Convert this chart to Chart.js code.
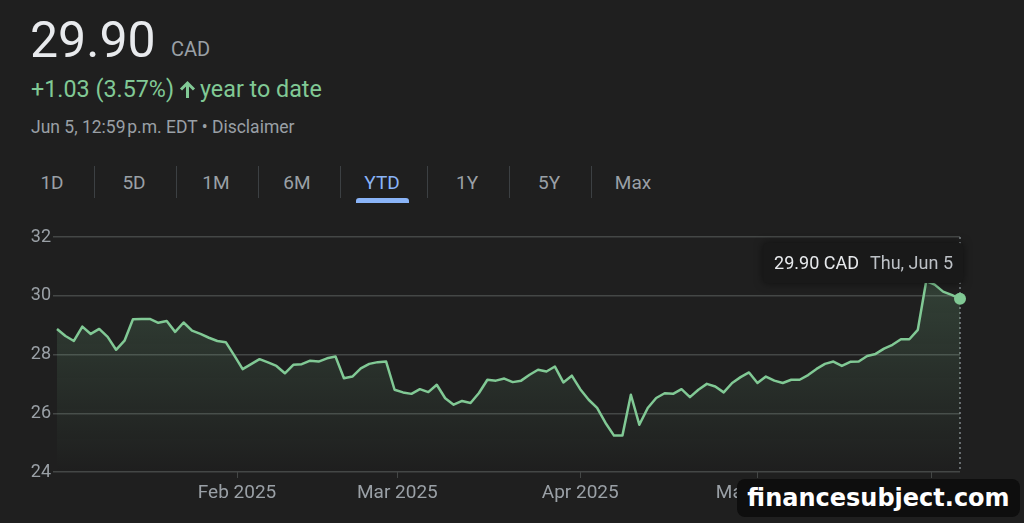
<!DOCTYPE html>
<html>
<head>
<meta charset="utf-8">
<script src="https://cdn.jsdelivr.net/npm/chart.js@4/dist/chart.umd.min.js"></script>
<style>
    body { margin: 0; width: 1024px; height: 523px; background: #1f1f1f; overflow: hidden; font-family: Roboto, "Noto Sans", sans-serif; position: relative; }
    .abs { position: absolute; white-space: nowrap; line-height: 1; }
    .price { left: 30px; top: 15px; font-size: 50px; color: #e8eaed; }
    .cur { left: 171px; top: 39px; font-size: 20px; color: #9aa0a6; }
    .change { left: 31px; top: 78px; font-size: 23.3px; color: #81c995; }
    .change svg { vertical-align: -2px; margin: 0 4px 0 5px; }
    .stamp { left: 31px; top: 119px; font-size: 17.5px; color: #9aa0a6; }
    .tab { top: 173px; width: 80px; margin-left: -40px; text-align: center; font-size: 19px; color: #9aa0a6; }
    .tab.on { color: #8ab4f8; }
    .sep { top: 166px; width: 1px; height: 32px; background: #3c4043; }
    .bar { left: 356px; top: 198px; width: 53px; height: 5px; background: #8ab4f8; border-radius: 3px 3px 0 0; }
    #wrap { position: absolute; left: 0; top: 220px; width: 1024px; height: 303px; }
    .mark { left: 737px; top: 479px; width: 283px; height: 38px; background: #0e0e0e; border-radius: 8px; color: #fff; font-family: "DejaVu Sans", sans-serif; font-weight: bold; font-size: 24px; line-height: 38px; text-align: center; }
</style>
</head>
<body>
<div class="abs price">29.90</div>
<div class="abs cur">CAD</div>
<div class="abs change">+1.03 (3.57%)<svg width="17" height="19" viewBox="0 0 17 19"><path d="M8.5 18V3 M2 9.5L8.5 3L15 9.5" fill="none" stroke="#81c995" stroke-width="3" stroke-linejoin="miter"/></svg>year to date</div>
<div class="abs stamp">Jun 5, 12:59&#8202;p.m. EDT &bull; Disclaimer</div>
<div id="tabs"></div>
<div class="abs bar"></div>
<div id="wrap"><canvas id="stockChart"></canvas></div>
<div class="abs mark">financesubject.com</div>

<script>
// trading days, Jan 2 - Jun 5 2025 (TSX)
var tradeDates = [
    '2025-01-02', '2025-01-03', '2025-01-06', '2025-01-07', '2025-01-08', '2025-01-09', '2025-01-10',
    '2025-01-13', '2025-01-14', '2025-01-15', '2025-01-16', '2025-01-17', '2025-01-20', '2025-01-21',
    '2025-01-22', '2025-01-23', '2025-01-24', '2025-01-27', '2025-01-28', '2025-01-29', '2025-01-30',
    '2025-01-31', '2025-02-03', '2025-02-04', '2025-02-05', '2025-02-06', '2025-02-07', '2025-02-10',
    '2025-02-11', '2025-02-12', '2025-02-13', '2025-02-14', '2025-02-18', '2025-02-19', '2025-02-20',
    '2025-02-21', '2025-02-24', '2025-02-25', '2025-02-26', '2025-02-27', '2025-02-28', '2025-03-03',
    '2025-03-04', '2025-03-05', '2025-03-06', '2025-03-07', '2025-03-10', '2025-03-11', '2025-03-12',
    '2025-03-13', '2025-03-14', '2025-03-17', '2025-03-18', '2025-03-19', '2025-03-20', '2025-03-21',
    '2025-03-24', '2025-03-25', '2025-03-26', '2025-03-27', '2025-03-28', '2025-03-31', '2025-04-01',
    '2025-04-02', '2025-04-03', '2025-04-04', '2025-04-07', '2025-04-08', '2025-04-09', '2025-04-10',
    '2025-04-11', '2025-04-14', '2025-04-15', '2025-04-16', '2025-04-17', '2025-04-21', '2025-04-22',
    '2025-04-23', '2025-04-24', '2025-04-25', '2025-04-28', '2025-04-29', '2025-04-30', '2025-05-01',
    '2025-05-02', '2025-05-05', '2025-05-06', '2025-05-07', '2025-05-08', '2025-05-09', '2025-05-12',
    '2025-05-13', '2025-05-14', '2025-05-15', '2025-05-16', '2025-05-20', '2025-05-21', '2025-05-22',
    '2025-05-23', '2025-05-26', '2025-05-27', '2025-05-28', '2025-05-29', '2025-05-30', '2025-06-02',
    '2025-06-03', '2025-06-04', '2025-06-05'
];

var closes = [
    28.87, 28.63, 28.46, 28.95, 28.70, 28.87, 28.60, 28.16, 28.47, 29.20,
    29.21, 29.21, 29.08, 29.14, 28.77, 29.09, 28.81, 28.70, 28.57, 28.46,
    28.42, 27.97, 27.50, 27.67, 27.84, 27.73, 27.61, 27.36, 27.65, 27.67,
    27.79, 27.76, 27.87, 27.93, 27.19, 27.25, 27.53, 27.68, 27.74, 27.76,
    26.80, 26.71, 26.66, 26.82, 26.72, 26.97, 26.51, 26.29, 26.42, 26.35,
    26.69, 27.14, 27.11, 27.18, 27.06, 27.11, 27.31, 27.48, 27.42, 27.59,
    27.05, 27.28, 26.82, 26.46, 26.18, 25.67, 25.24, 25.24, 26.63, 25.61,
    26.18, 26.52, 26.68, 26.66, 26.82, 26.55, 26.80, 27.00, 26.91, 26.71,
    27.03, 27.23, 27.39, 27.03, 27.25, 27.11, 27.03, 27.14, 27.14, 27.30,
    27.51, 27.68, 27.76, 27.61, 27.75, 27.76, 27.95, 28.02, 28.20, 28.33,
    28.52, 28.52, 28.84, 30.50, 30.38, 30.14, 30.03, 29.90
];

// month starts fall on weekends sometimes, so the ticks sit between trading days
var monthTickPos = [21.33, 40.33, 62, 83, 103.67];
var monthTickLabels = ['Feb 2025', 'Mar 2025', 'Apr 2025', 'May 2025', 'Jun 2025'];
var yTicks = [24, 26, 28, 30, 32];

var tabLabels = ['1D', '5D', '1M', '6M', 'YTD', '1Y', '5Y', 'Max'];
var tabCenters = [52, 134, 216, 297, 382, 467, 549, 633];
var sepX = [94, 176, 258, 340, 427, 509, 591];

var green = '#81c995';
var gridColor = '#444746';

// tabs row
var tabs = document.getElementById('tabs');
for (var i = 0; i < tabLabels.length; i++) {
    var t = document.createElement('div');
    t.className = 'abs tab' + (tabLabels[i] == 'YTD' ? ' on' : '');
    t.style.left = tabCenters[i] + 'px';
    t.textContent = tabLabels[i];
    tabs.appendChild(t);
}
for (var i = 0; i < sepX.length; i++) {
    var s = document.createElement('div');
    s.className = 'abs sep';
    s.style.left = sepX[i] + 'px';
    tabs.appendChild(s);
}

var points = [];
for (var i = 0; i < closes.length; i++) {
    points.push({ x: i, y: closes[i] });
}
var lastIdx = closes.length - 1;

// dotted hover line + price bubble at the last close
var hoverPlugin = {
    id: 'hoverBubble',
    beforeDatasetsDraw: function (chart) {
        var ctx = chart.ctx;
        var area = chart.chartArea;
        var pt = chart.getDatasetMeta(0).data[lastIdx];
        ctx.save();
        ctx.strokeStyle = '#80868b';
        ctx.lineWidth = 1.5;
        ctx.setLineDash([2, 3]);
        ctx.beginPath();
        ctx.moveTo(pt.x, area.top);
        ctx.lineTo(pt.x, area.bottom);
        ctx.stroke();
        ctx.restore();
    },
    afterDatasetsDraw: function (chart) {
        var ctx = chart.ctx;
        var area = chart.chartArea;
        var pt = chart.getDatasetMeta(0).data[lastIdx];
        var d = new Date(tradeDates[lastIdx] + 'T12:00:00');
        var dayText = d.toLocaleDateString('en-US', { weekday: 'short', month: 'short', day: 'numeric' });
        var priceText = closes[lastIdx].toFixed(2) + ' CAD';
        ctx.save();
        ctx.font = '18px Roboto';
        var w1 = ctx.measureText(priceText).width;
        var w2 = ctx.measureText(dayText).width;
        var boxW = w1 + w2 + 32;
        var boxR = pt.x + 3;
        var boxT = area.top + 6;
        var boxH = 40;
        ctx.shadowColor = 'rgba(0,0,0,0.5)';
        ctx.shadowBlur = 8;
        ctx.fillStyle = '#191919';
        ctx.beginPath();
        ctx.roundRect(boxR - boxW, boxT, boxW, boxH, 4);
        ctx.fill();
        ctx.shadowBlur = 0;
        ctx.textBaseline = 'middle';
        ctx.fillStyle = '#e8eaed';
        ctx.fillText(priceText, boxR - boxW + 11, boxT + boxH / 2 + 1);
        ctx.fillStyle = '#bdc1c6';
        ctx.fillText(dayText, boxR - boxW + 22 + w1, boxT + boxH / 2 + 1);
        ctx.restore();
    }
};

new Chart(document.getElementById('stockChart').getContext('2d'), {
    type: 'line',
    data: {
        datasets: [{
            data: points,
            borderColor: green,
            borderWidth: 2.5,
            borderJoinStyle: 'round',
            tension: 0,
            clip: false,
            fill: 'start',
            backgroundColor: function (context) {
                var area = context.chart.chartArea;
                if (!area) {
                    return 'rgba(129,201,149,0.1)';
                }
                var g = context.chart.ctx.createLinearGradient(0, area.top + 40, 0, area.bottom);
                g.addColorStop(0, 'rgba(129,201,149,0.20)');
                g.addColorStop(1, 'rgba(129,201,149,0.0)');
                return g;
            },
            pointRadius: function (c) { return c.dataIndex == lastIdx ? 6 : 0; },
            pointBackgroundColor: green,
            pointBorderWidth: 0
        }]
    },
    options: {
        responsive: true,
        maintainAspectRatio: false,
        animation: false,
        events: [],
        layout: { padding: { top: 17, right: 64, left: 0, bottom: 0 } },
        plugins: {
            legend: { display: false },
            tooltip: { enabled: false }
        },
        scales: {
            x: {
                type: 'linear',
                min: 0,
                max: lastIdx,
                afterFit: function (scale) { scale.height = 51; },
                afterBuildTicks: function (scale) {
                    scale.ticks = monthTickPos.map(function (v) { return { value: v }; });
                },
                ticks: {
                    autoSkip: false,
                    maxRotation: 0,
                    padding: 4,
                    color: '#9aa0a6',
                    font: { family: 'Roboto', size: 19 },
                    callback: function (value, index) { return monthTickLabels[index]; }
                },
                grid: {
                    drawOnChartArea: false,
                    drawTicks: true,
                    tickLength: 6,
                    color: gridColor
                },
                border: { display: false }
            },
            y: {
                min: yTicks[0],
                max: yTicks[yTicks.length - 1],
                afterFit: function (scale) { scale.width = 57; },
                afterBuildTicks: function (scale) {
                    scale.ticks = yTicks.map(function (v) { return { value: v }; });
                },
                ticks: {
                    padding: 2,
                    color: '#9aa0a6',
                    font: { family: 'Roboto', size: 18 }
                },
                grid: {
                    color: gridColor,
                    lineWidth: 1.5,
                    tickLength: 4
                },
                border: { display: false }
            }
        }
    },
    plugins: [hoverPlugin]
});
</script>
</body>
</html>
